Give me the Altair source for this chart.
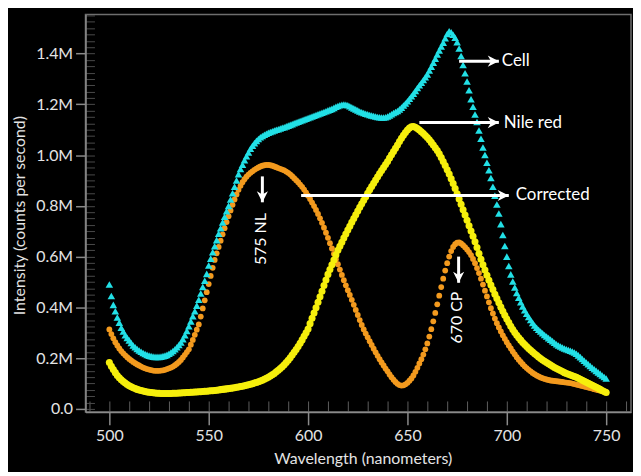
import altair as alt
import pandas as pd

# ---------------- data (intensity in millions of counts / s) ----------------
wavelength = list(range(500, 751))

cell = [
    0.49, 0.445, 0.41, 0.385, 0.36, 0.34, 0.32, 0.305, 0.29, 0.28,
    0.27, 0.26, 0.25, 0.243, 0.236, 0.23, 0.225, 0.22, 0.216, 0.213,
    0.21, 0.208, 0.206, 0.205, 0.205, 0.205, 0.206, 0.208, 0.21, 0.213,
    0.217, 0.222, 0.228, 0.235, 0.243, 0.252, 0.262, 0.275, 0.29, 0.307,
    0.326, 0.345, 0.365, 0.385, 0.407, 0.43, 0.455, 0.48, 0.505, 0.532,
    0.565, 0.592, 0.617, 0.641, 0.665, 0.69, 0.712, 0.735, 0.757, 0.779,
    0.80, 0.825, 0.85, 0.875, 0.9, 0.925, 0.945, 0.962, 0.98, 0.995,
    1.01, 1.025, 1.037, 1.047, 1.056, 1.063, 1.07, 1.075, 1.08, 1.084,
    1.088, 1.091, 1.094, 1.097, 1.1, 1.102, 1.105, 1.108, 1.11, 1.113,
    1.116, 1.119, 1.122, 1.125, 1.128, 1.131, 1.134, 1.137, 1.14, 1.143,
    1.146, 1.149, 1.152, 1.155, 1.158, 1.161, 1.164, 1.167, 1.17, 1.173,
    1.176, 1.179, 1.182, 1.186, 1.19, 1.193, 1.196, 1.198, 1.199, 1.198,
    1.196, 1.192, 1.188, 1.184, 1.18, 1.176, 1.172, 1.169, 1.166, 1.163,
    1.161, 1.158, 1.156, 1.154, 1.152, 1.15, 1.149, 1.148, 1.148, 1.149,
    1.152, 1.156, 1.161, 1.166, 1.17, 1.174, 1.18, 1.187, 1.195, 1.203,
    1.212, 1.222, 1.232, 1.242, 1.253, 1.264, 1.275, 1.285, 1.296, 1.307,
    1.318, 1.333, 1.348, 1.364, 1.38, 1.396, 1.412, 1.428, 1.443, 1.46,
    1.477, 1.488, 1.484, 1.474, 1.462, 1.445, 1.42, 1.39, 1.355, 1.322,
    1.29, 1.255, 1.22, 1.19, 1.16, 1.13, 1.097, 1.064, 1.03, 1.0,
    0.97, 0.94, 0.91, 0.875, 0.84, 0.805, 0.77, 0.728, 0.685, 0.642,
    0.6, 0.563, 0.53, 0.502, 0.478, 0.457, 0.438, 0.42, 0.404, 0.389,
    0.375, 0.362, 0.35, 0.339, 0.329, 0.32, 0.312, 0.305, 0.298, 0.291,
    0.285, 0.279, 0.273, 0.267, 0.261, 0.255, 0.25, 0.246, 0.242, 0.238,
    0.235, 0.232, 0.229, 0.226, 0.222, 0.217, 0.211, 0.204, 0.197, 0.19,
    0.183, 0.176, 0.169, 0.162, 0.156, 0.15, 0.144, 0.138, 0.132, 0.126,
    0.12,
]

nile_red = [
    0.183, 0.168, 0.155, 0.143, 0.132, 0.123, 0.115, 0.108, 0.102, 0.096,
    0.091, 0.087, 0.083, 0.08, 0.077, 0.075, 0.073, 0.071, 0.069, 0.067,
    0.066, 0.065, 0.064, 0.063, 0.062, 0.062, 0.061, 0.061, 0.061, 0.061,
    0.061, 0.061, 0.062, 0.062, 0.062, 0.063, 0.063, 0.064, 0.064, 0.065,
    0.065, 0.066, 0.066, 0.067, 0.067, 0.068, 0.068, 0.069, 0.07, 0.07,
    0.071, 0.072, 0.072, 0.073, 0.074, 0.075, 0.076, 0.077, 0.078, 0.079,
    0.08, 0.081, 0.082, 0.083, 0.085, 0.086, 0.088, 0.089, 0.091, 0.093,
    0.095, 0.097, 0.099, 0.102, 0.104, 0.107, 0.11, 0.113, 0.117, 0.121,
    0.125, 0.13, 0.135, 0.14, 0.146, 0.152, 0.159, 0.166, 0.174, 0.183,
    0.192, 0.202, 0.212, 0.223, 0.234, 0.246, 0.259, 0.272, 0.286, 0.3,
    0.315, 0.336, 0.357, 0.378, 0.399, 0.42, 0.442, 0.464, 0.486, 0.508,
    0.53, 0.549, 0.568, 0.587, 0.606, 0.625, 0.641, 0.657, 0.673, 0.689,
    0.705, 0.72, 0.735, 0.75, 0.765, 0.78, 0.794, 0.808, 0.822, 0.836,
    0.85, 0.863, 0.876, 0.889, 0.902, 0.915, 0.927, 0.939, 0.951, 0.963,
    0.975, 0.988, 1.001, 1.014, 1.027, 1.04, 1.053, 1.066, 1.078, 1.089,
    1.099, 1.107, 1.112, 1.113, 1.11, 1.105, 1.099, 1.092, 1.085, 1.077,
    1.069, 1.06, 1.05, 1.04, 1.029, 1.018, 1.005, 0.99, 0.975, 0.959,
    0.942, 0.925, 0.907, 0.888, 0.868, 0.848, 0.827, 0.806, 0.785, 0.764,
    0.743, 0.722, 0.701, 0.68, 0.659, 0.636, 0.612, 0.59, 0.568, 0.547,
    0.527, 0.507, 0.488, 0.47, 0.452, 0.435, 0.418, 0.401, 0.385, 0.369,
    0.354, 0.34, 0.326, 0.313, 0.301, 0.29, 0.28, 0.271, 0.262, 0.254,
    0.246, 0.238, 0.231, 0.224, 0.217, 0.211, 0.205, 0.199, 0.193, 0.188,
    0.183, 0.178, 0.173, 0.168, 0.163, 0.159, 0.155, 0.151, 0.147, 0.143,
    0.14, 0.137, 0.134, 0.131, 0.128, 0.125, 0.121, 0.117, 0.113, 0.109,
    0.105, 0.101, 0.097, 0.093, 0.089, 0.085, 0.081, 0.077, 0.073, 0.069,
    0.065,
]

corrected = [
    0.313, 0.295, 0.278, 0.263, 0.25, 0.238, 0.228, 0.219, 0.211, 0.204,
    0.197, 0.191, 0.185, 0.18, 0.175, 0.171, 0.167, 0.163, 0.16, 0.157,
    0.155, 0.153, 0.151, 0.15, 0.15, 0.15, 0.151, 0.152, 0.154, 0.157,
    0.16, 0.163, 0.167, 0.172, 0.178, 0.185, 0.193, 0.203, 0.213, 0.224,
    0.235, 0.253, 0.272, 0.292, 0.312, 0.333, 0.364, 0.396, 0.428, 0.46,
    0.492, 0.524, 0.556, 0.587, 0.613, 0.638, 0.663, 0.688, 0.712, 0.736,
    0.759, 0.782, 0.804, 0.825, 0.845, 0.863, 0.879, 0.893, 0.905, 0.915,
    0.923, 0.93, 0.936, 0.942, 0.947, 0.951, 0.955, 0.958, 0.96, 0.961,
    0.961, 0.96, 0.958, 0.955, 0.952, 0.949, 0.946, 0.943, 0.94, 0.935,
    0.93, 0.924, 0.917, 0.909, 0.901, 0.893, 0.884, 0.875, 0.864, 0.852,
    0.84, 0.827, 0.813, 0.799, 0.784, 0.768, 0.751, 0.733, 0.714, 0.694,
    0.674, 0.653, 0.632, 0.611, 0.59, 0.57, 0.549, 0.528, 0.507, 0.487,
    0.468, 0.449, 0.43, 0.41, 0.39, 0.37, 0.35, 0.331, 0.313, 0.297,
    0.282, 0.267, 0.252, 0.237, 0.223, 0.209, 0.196, 0.183, 0.171, 0.159,
    0.148, 0.136, 0.125, 0.115, 0.106, 0.099, 0.094, 0.092, 0.093, 0.097,
    0.103, 0.111, 0.12, 0.132, 0.146, 0.162, 0.179, 0.196, 0.214, 0.235,
    0.258, 0.285, 0.314, 0.345, 0.378, 0.412, 0.446, 0.48, 0.513, 0.545,
    0.574, 0.6, 0.622, 0.638, 0.649, 0.655, 0.656, 0.652, 0.645, 0.637,
    0.628, 0.618, 0.606, 0.591, 0.574, 0.555, 0.535, 0.513, 0.49, 0.466,
    0.443, 0.42, 0.397, 0.376, 0.356, 0.338, 0.321, 0.305, 0.29, 0.276,
    0.263, 0.25, 0.238, 0.226, 0.215, 0.204, 0.194, 0.185, 0.176, 0.168,
    0.161, 0.154, 0.148, 0.142, 0.137, 0.132, 0.128, 0.124, 0.121, 0.118,
    0.116, 0.114, 0.112, 0.111, 0.11, 0.109, 0.108, 0.107, 0.106, 0.105,
    0.104, 0.103, 0.102, 0.1, 0.098, 0.096, 0.094, 0.092, 0.09, 0.088,
    0.086, 0.084, 0.082, 0.08, 0.078, 0.076, 0.074, 0.072, 0.07, 0.068,
    0.066,
]

# axis ticks
x_major = [500, 550, 600, 650, 700, 750]
x_minor = list(range(490, 761, 10))
y_major = [0.0, 0.2, 0.4, 0.6, 0.8, 1.0, 1.2, 1.4]
y_minor = [round(i * 0.025, 3) for i in range(0, 63)]

# annotations
arrow_x = [676, 656, 596.5, 577, 675.75]
arrow_x2 = [696, 696, 701, 577, 675.75]
arrow_y = [1.37, 1.128, 0.841, 0.916, 0.600]
arrow_y2 = [1.37, 1.128, 0.841, 0.814, 0.497]
RIGHT = "M0,0L-1,-0.5L-0.7,0L-1,0.5Z"
DOWN = "M0,0L-0.5,-1L0,-0.7L0.5,-1Z"
arrow_head = [RIGHT, RIGHT, RIGHT, DOWN, DOWN]

h_labels = ["Cell", "Nile red", "Corrected"]
h_label_x = [697.5, 698.5, 704.5]
h_label_y = [1.37, 1.128, 0.841]

v_labels = ["575 NL", "670 CP"]
v_label_x = [576.5, 675.0]
v_label_y = [0.669, 0.36]

# ---------------- chart ----------------
df = pd.DataFrame({"wavelength": wavelength, "cell": cell,
                   "nile": nile_red, "corr": corrected})
arrows = pd.DataFrame({"x": arrow_x, "x2": arrow_x2, "y": arrow_y,
                       "y2": arrow_y2, "head": arrow_head})
htext = pd.DataFrame({"x": h_label_x, "y": h_label_y, "t": h_labels})
vtext = pd.DataFrame({"x": v_label_x, "y": v_label_y, "t": v_labels})

FONT = "Lato"
TXT = "#e4e4e4"
xs = alt.Scale(domain=[488, 762.5], nice=False, zero=False)
ys = alt.Scale(domain=[-0.0117, 1.554], nice=False, zero=False)

minor_x_axis = alt.Axis(orient="bottom", values=x_minor, offset=-11, tickSize=11,
                        tickColor="#5e5e5e", tickWidth=1, labels=False,
                        domain=False, grid=False, title="")
minor_y_axis = alt.Axis(orient="left", values=y_minor, offset=-9, tickSize=9,
                        tickColor="#4a4a4a", tickWidth=1, labels=False,
                        domain=False, grid=False, title="")

main_x_axis = alt.Axis(orient="bottom", values=x_major, tickSize=13,
                       tickColor="#8a8a8a", tickWidth=1.5, domainColor="#8a8a8a",
                       domainWidth=1.5, grid=False, labelColor=TXT, labelFont=FONT,
                       labelFontSize=16, labelPadding=3,
                       title="Wavelength (nanometers)", titleColor=TXT,
                       titleFont=FONT, titleFontSize=16, titleFontWeight="normal",
                       titleX=279, titleY=47, titleBaseline="middle")
main_y_axis = alt.Axis(orient="left", values=y_major, tickSize=10,
                       tickColor="#8a8a8a", tickWidth=1.5, domainColor="#8a8a8a",
                       domainWidth=1.5, grid=False, labelColor=TXT, labelFont=FONT,
                       labelFontSize=16, labelPadding=3,
                       labelExpr="datum.value == 0 ? '0.0' : format(datum.value, '.1f') + 'M'",
                       title="Intensity (counts per second)", titleColor=TXT,
                       titleFont=FONT, titleFontSize=16, titleFontWeight="normal",
                       titleX=-66, titleY=202, titleAngle=270,
                       titleBaseline="middle")

ticks = alt.Chart(df).mark_point(opacity=0).encode(
    x=alt.X("wavelength:Q", scale=xs, axis=minor_x_axis),
    y=alt.Y("cell:Q", scale=ys, axis=minor_y_axis),
)

orange = alt.Chart(df).mark_point(shape="circle", filled=True, size=34,
                                  color="#f39a1e", opacity=1).encode(
    x=alt.X("wavelength:Q", scale=xs, axis=main_x_axis),
    y=alt.Y("corr:Q", scale=ys, axis=main_y_axis),
)

yellow = alt.Chart(df).mark_point(shape="circle", filled=True, size=50,
                                  color="#f6ef0c", opacity=1).encode(
    x=alt.X("wavelength:Q", scale=xs, axis=None),
    y=alt.Y("nile:Q", scale=ys, axis=None),
)

cyan = alt.Chart(df).mark_point(shape="triangle-up", filled=True, size=58,
                                color="#22e0e6", opacity=1).encode(
    x=alt.X("wavelength:Q", scale=xs, axis=None),
    y=alt.Y("cell:Q", scale=ys, axis=None),
)

rules = alt.Chart(arrows).mark_rule(color="white", strokeWidth=3).encode(
    x=alt.X("x:Q", scale=xs, axis=None),
    x2="x2:Q",
    y=alt.Y("y:Q", scale=ys, axis=None),
    y2="y2:Q",
)

heads = alt.Chart(arrows).mark_point(filled=True, color="white", opacity=1,
                                     size=500).encode(
    x=alt.X("x2:Q", scale=xs, axis=None),
    y=alt.Y("y2:Q", scale=ys, axis=None),
    shape=alt.Shape("head:N", scale=None),
)

hlabels = alt.Chart(htext).mark_text(align="left", baseline="middle", font=FONT,
                                     fontSize=17, color="white").encode(
    x=alt.X("x:Q", scale=xs, axis=None),
    y=alt.Y("y:Q", scale=ys, axis=None),
    text="t:N",
)

vlabels = alt.Chart(vtext).mark_text(align="center", baseline="middle", angle=270,
                                     font=FONT, fontSize=16, color="white").encode(
    x=alt.X("x:Q", scale=xs, axis=None),
    y=alt.Y("y:Q", scale=ys, axis=None),
    text="t:N",
)

chart = alt.layer(
    ticks, orange, yellow, cyan, rules, heads, hlabels, vlabels
).resolve_axis(
    x="independent", y="independent"
).properties(
    width=549, height=400,
    autosize=alt.AutoSizeParams(type="none"),
    padding={"left": 78, "top": 5, "right": 2, "bottom": 59},
    background="black",
).configure_view(
    stroke="#6e6e6e", strokeWidth=1.5
)

chart.save("out.html", embed_options={"renderer": "svg", "actions": False})
